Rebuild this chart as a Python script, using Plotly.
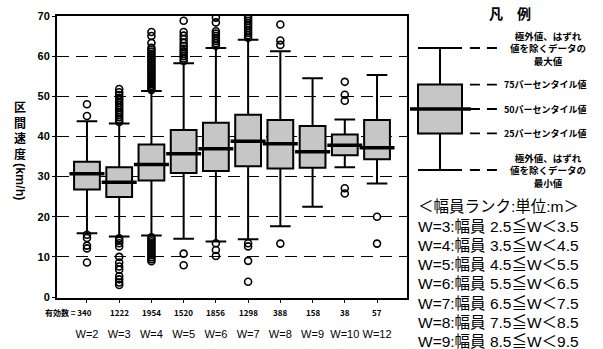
import plotly.graph_objects as go

# ---------------- data ----------------
categories = ["W=2", "W=3", "W=4", "W=5", "W=6", "W=7", "W=8", "W=9", "W=10", "W=12"]
counts = [340, 1222, 1954, 1520, 1856, 1298, 388, 158, 38, 57]
q1 = [26.8, 24.9, 29.0, 30.9, 31.4, 32.6, 32.0, 32.2, 35.3, 34.3]
median = [30.7, 28.6, 33.0, 35.7, 36.9, 38.8, 38.2, 36.2, 37.8, 37.2]
q3 = [33.7, 32.3, 38.0, 41.6, 43.4, 45.4, 44.1, 42.6, 40.5, 44.1]
lower = [15.9, 15.1, 15.3, 14.5, 13.8, 14.4, 17.6, 22.5, 32.3, 28.3]
upper = [43.8, 43.2, 51.3, 58.2, 62.0, 64.1, 61.2, 54.5, 44.2, 55.3]

outliers = {
    "W=2": [45.1, 48.0, 15.5, 14.7, 12.8, 12.1, 8.6],
    "W=3": [43.6, 44.2, 44.8, 45.4, 46.0, 46.6, 47.2, 47.8, 48.4, 49.0, 49.6, 50.3, 51.0, 51.8,
            14.6, 14.0, 13.4, 12.6, 10.0, 8.6, 7.6, 6.8, 5.2, 4.4, 3.6, 3.0],
    "W=4": [51.6, 52.1, 52.6, 53.1, 53.6, 54.1, 54.6, 55.1, 55.6, 56.1, 56.6, 57.1, 57.6, 58.1,
            58.6, 59.1, 59.6, 60.1, 60.6, 61.1, 61.6, 62.1, 63.3, 65.0, 66.0,
            14.9, 14.4, 13.9, 13.4, 12.9, 12.4, 11.9, 11.4, 10.9, 10.4, 9.9, 9.4, 8.9],
    "W=5": [58.8, 59.4, 60.0, 60.6, 61.2, 61.8, 62.5, 63.3, 64.2, 65.1, 66.0, 68.8, 10.8, 7.9],
    "W=6": [62.6, 63.2, 63.8, 64.4, 65.0, 65.6, 66.2, 68.4, 69.6, 13.4, 11.7, 10.2],
    "W=7": [64.6, 65.2, 65.8, 66.4, 67.0, 67.6, 68.2, 68.8, 69.4, 70.0, 13.4, 12.6, 9.0, 3.8],
    "W=8": [62.8, 63.9, 67.9, 13.3],
    "W=9": [],
    "W=10": [53.6, 50.4, 48.9, 27.1, 25.8],
    "W=12": [20.0, 13.3],
}

legend_stats = [0, 3, 5, 7, 10]  # min, q1, median, q3, max (illustrative)
legend_labels = [
    "極外値、はずれ<br>値を除くデータの<br>最小値",
    "25パーセンタイル値",
    "50パーセンタイル値",
    "75パーセンタイル値",
    "極外値、はずれ<br>値を除くデータの<br>最大値",
]
rank_lines = [
    "＜幅員ランク:単位:m＞",
    "W=3:幅員 2.5≦W＜3.5",
    "W=4:幅員 3.5≦W＜4.5",
    "W=5:幅員 4.5≦W＜5.5",
    "W=6:幅員 5.5≦W＜6.5",
    "W=7:幅員 6.5≦W＜7.5",
    "W=8:幅員 7.5≦W＜8.5",
    "W=9:幅員 8.5≦W＜9.5",
]

# ---------------- figure ----------------
W, H = 603, 349
ML, MR, MT, MB = 57, 5, 16, 51
PW = W - ML - MR
PH = H - MT - MB

def px_x(p):
    return (p - ML) / PW

def px_y(p):
    return (H - MB - p) / PH

FILL = "#c6c6c6"
SANS = "Liberation Sans, Arial, sans-serif"
CJK = "Noto Sans CJK JP, sans-serif"

fig = go.Figure()

fig.add_trace(go.Box(
    x=categories, q1=q1, median=median, q3=q3,
    lowerfence=lower, upperfence=upper,
    fillcolor=FILL, line=dict(color="black", width=2),
    whiskerwidth=0.8, width=0.8, boxpoints=False,
    showlegend=False, hoverinfo="skip",
))

# thick median bars
fig.add_trace(go.Scatter(
    x=categories, y=median, mode="markers",
    marker=dict(symbol="line-ew", size=25, line=dict(color="black", width=3.5)),
    showlegend=False, hoverinfo="skip",
))

ox, oy = [], []
for c in categories:
    for v in outliers[c]:
        ox.append(c)
        oy.append(v)
fig.add_trace(go.Scatter(
    x=ox, y=oy, mode="markers",
    marker=dict(symbol="circle-open", size=7, color="black", line=dict(width=1.6, color="black")),
    showlegend=False, hoverinfo="skip", cliponaxis=True,
))

# legend diagram box
fig.add_trace(go.Box(
    x=[0], q1=[legend_stats[1]], median=[legend_stats[2]], q3=[legend_stats[3]],
    lowerfence=[legend_stats[0]], upperfence=[legend_stats[4]],
    xaxis="x2", yaxis="y2", fillcolor=FILL, line=dict(color="black", width=2),
    whiskerwidth=1, width=1, boxpoints=False, showlegend=False, hoverinfo="skip",
))
fig.add_trace(go.Scatter(
    x=[0], y=[legend_stats[2]], xaxis="x2", yaxis="y2", mode="markers",
    marker=dict(symbol="line-ew", size=44, line=dict(color="black", width=3.5)),
    showlegend=False, hoverinfo="skip",
))
dx, dy = [], []
for v in legend_stats:
    dx += [0.68, 1.30, None]
    dy += [v, v, None]
fig.add_trace(go.Scatter(
    x=dx, y=dy, xaxis="x2", yaxis="y2", mode="lines",
    line=dict(color="black", width=1.8, dash="10px,7px"),
    showlegend=False, hoverinfo="skip",
))

annotations = []
for i, (c, n) in enumerate(zip(categories, counts)):
    txt = f"有効数 = {n}" if i == 0 else str(n)
    annotations.append(dict(
        x=c, xref="x", y=px_y(312), yref="paper", text=txt, showarrow=False,
        xanchor="right" if i == 0 else "center", yanchor="middle", xshift=7 if i == 0 else 0,
        font=dict(family=CJK, size=8, color="black", weight="bold"),
    ))

for v, lab in zip(legend_stats, legend_labels):
    multi = "<br>" in lab
    annotations.append(dict(
        x=2.45 if multi else 1.41, xref="x2", y=v, yref="y2", text=lab, showarrow=False,
        xanchor="center" if multi else "left", yanchor="middle", align="center",
        font=dict(family=CJK, size=9.5 if multi else 9, color="black", weight="bold"),
    ))

annotations.append(dict(
    x=px_x(510), xref="paper", y=px_y(12.7), yref="paper", text="凡　例", showarrow=False,
    xanchor="center", yanchor="middle",
    font=dict(family=CJK, size=14, color="black", weight="bold"),
))
for i, line in enumerate(rank_lines):
    annotations.append(dict(
        x=px_x(416), xref="paper", y=px_y(207 + i * 19.2), yref="paper", text=line,
        showarrow=False, xanchor="left", yanchor="middle", align="left",
        font=dict(family=SANS + ", Noto Sans CJK JP", size=15.5, color="black"),
    ))
annotations.append(dict(
    x=px_x(20), xref="paper", y=px_y(130), yref="paper", text="区<br>間<br>速<br>度",
    showarrow=False, xanchor="center", yanchor="middle",
    font=dict(family=CJK, size=12, color="black", weight="bold"),
))
annotations.append(dict(
    x=px_x(20), xref="paper", y=px_y(182), yref="paper", text="(km/h)", textangle=90,
    showarrow=False, xanchor="center", yanchor="middle",
    font=dict(family=SANS, size=12.5, color="black", weight="bold"),
))

fig.update_layout(
    width=W, height=H, margin=dict(l=ML, r=MR, t=MT, b=MB, autoexpand=False),
    paper_bgcolor="white", plot_bgcolor="white",
    showlegend=False, annotations=annotations,
    xaxis=dict(
        domain=[0, px_x(407)], range=[-0.93, 9.93], type="category",
        categoryorder="array", categoryarray=categories,
        tickvals=categories, ticktext=categories, tickangle=0, automargin=False,
        showline=True, mirror=True, linecolor="black", linewidth=1.5,
        ticks="outside", ticklen=3, tickcolor="black", showgrid=False,
        ticklabelstandoff=22,
        tickfont=dict(family=SANS, size=11, color="black"),
    ),
    yaxis=dict(
        range=[-0.25, 70], dtick=10, tick0=0, automargin=False,
        showgrid=True, gridcolor="black", gridwidth=1.3, griddash="12px,7px",
        zeroline=False, showline=True, mirror=True, linecolor="black", linewidth=2,
        ticks="outside", ticklen=3, tickcolor="black",
        tickfont=dict(family=SANS, size=11, color="black", weight="bold"),
    ),
    xaxis2=dict(domain=[px_x(410), px_x(598)], range=[-0.682, 3.591], visible=False, anchor="y2"),
    yaxis2=dict(domain=[px_y(182.2), px_y(35.8)], range=[-1, 11], visible=False, anchor="x2"),
)

fig.write_html("out.html", config={"displayModeBar": False},
               post_script="document.body.style.margin='0px';")
